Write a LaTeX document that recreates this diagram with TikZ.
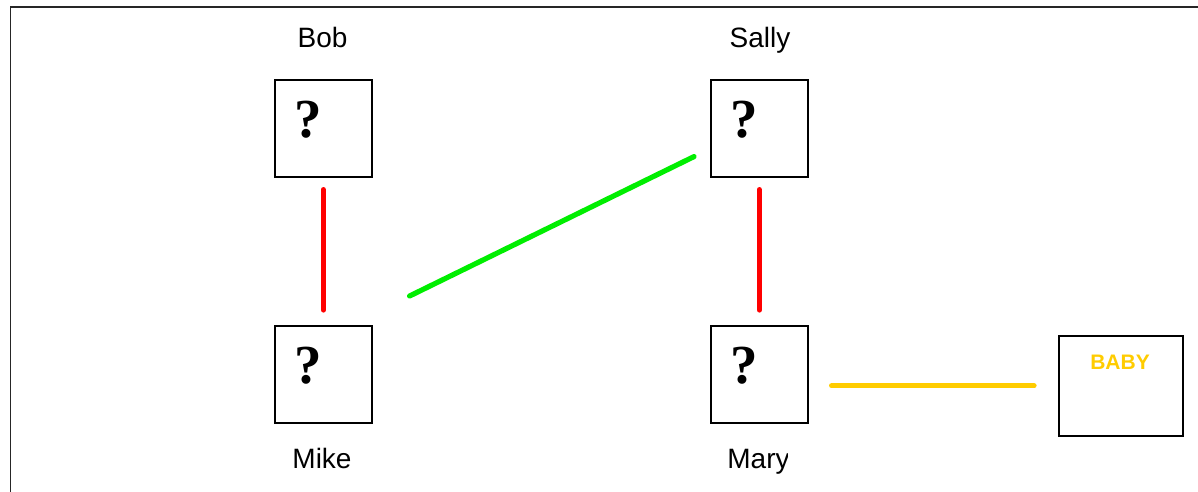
\documentclass[tikz,border=0pt]{standalone}
\usepackage{fontspec}
\setmainfont{Liberation Sans}
\newfontfamily\qfont{Liberation Serif}
\definecolor{babyyellow}{RGB}{255,204,0}
\definecolor{linkgreen}{RGB}{0,238,0}
\begin{document}
\begin{tikzpicture}[x=1pt,y=-1pt,
  person/.style={draw=black,line width=1.6pt,minimum width=97pt,minimum height=97pt,inner sep=0pt,anchor=north west},
  qmark/.style={font=\qfont\bfseries\fontsize{55}{55}\selectfont,anchor=base,inner sep=0pt},
  pname/.style={font=\fontsize{28}{28}\selectfont,anchor=base,inner sep=0pt},
  link/.style={line width=5.2pt,line cap=round},
]
\useasboundingbox (0,0) rectangle (1198,491);
\clip (0,0) rectangle (1198,491);
\draw[line width=1.8pt,black!85] (10.5,7) rectangle (1230,520);
% boxes
\node[person] (bob) at (274,79) {};
\node[person] (sally) at (710,79) {};
\node[person] (mike) at (274,325) {};
\node[person] (mary) at (710,325) {};
\node[draw=black,line width=1.6pt,minimum width=124pt,minimum height=100pt,inner sep=0pt,anchor=north west] (baby) at (1058,335) {};
% question marks
\node[qmark] (bobq) at ([shift={(34.5,58)}]bob.north west) {?};
\node[qmark] (sallyq) at ([shift={(34.5,58)}]sally.north west) {?};
\node[qmark] (mikeq) at ([shift={(34.5,58)}]mike.north west) {?};
\node[qmark] (maryq) at ([shift={(34.5,58)}]mary.north west) {?};
\node[font=\bfseries\fontsize{21}{21}\selectfont,text=babyyellow,anchor=base,inner sep=0pt] (babyt) at (1120,369) {BABY};
% names
\node[pname] (bobn) at (322.5,47) {Bob};
\node[pname] (sallyn) at (760,47) {Sally};
\node[pname] (miken) at (322,468) {Mike};
\begin{scope}
\clip (700,420) rectangle (787,491);
\node[pname] (maryn) at (758.5,468) {Mary};
\end{scope}
% connectors
\draw[link,red,shorten <=12pt,shorten >=15pt] (bob.south) -- (mike.north);
\draw[link,red,shorten <=12pt,shorten >=15pt] (sally.south) -- (mary.north);
\draw[link,linkgreen] ([shift={(37,-29)}]mike.north east) -- ([shift={(-16,-21)}]sally.south west);
\draw[link,babyyellow,shorten <=23pt,shorten >=24pt] (baby.west -| mary.east) -- (baby.west);
\end{tikzpicture}
\end{document}
